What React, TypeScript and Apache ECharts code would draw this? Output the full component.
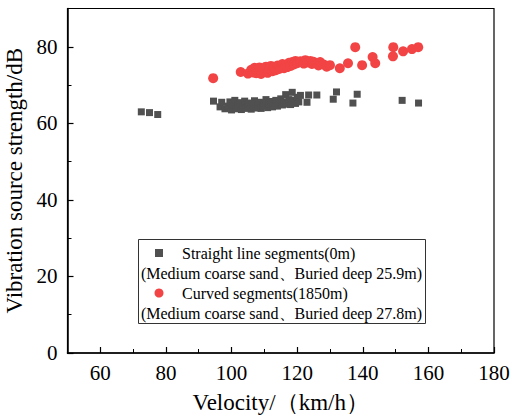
import React, { useEffect, useRef } from "react";
import * as echarts from "echarts";

const straightData: [number, number][] = [
  [72.5, 63.0], [75, 62.8], [77.5, 62.3],
  [94.5, 65.8], [96.5, 64.3], [97, 65.5], [98, 63.8], [99, 64.5], [99.5, 65.6], [100, 63.5],
  [100.5, 64.8], [101, 66.0], [101.5, 63.8], [102, 64.6], [102.5, 65.4], [103, 63.6], [103.5, 64.2],
  [104, 65.8], [104.5, 63.9], [105, 64.7], [105.5, 65.3], [106, 63.7], [106.5, 64.4], [107, 65.9],
  [107.5, 64.0], [108, 64.9], [108.5, 65.5], [109, 63.9], [109.5, 64.6], [110, 65.2], [110.5, 66.2],
  [111, 64.1], [111.5, 65.0], [112, 65.7], [112.5, 64.3], [113, 64.9], [113.5, 66.0], [114, 64.5],
  [114.5, 65.3], [115, 66.4], [115.5, 64.8], [116, 65.6], [116.5, 67.5], [117, 65.0], [117.5, 66.2],
  [118, 64.9], [118.5, 68.1], [119, 66.0], [119.5, 65.2], [120, 66.8], [120.5, 65.6], [121, 67.3],
  [123, 65.5], [123.5, 67.4], [126, 67.4], [131, 66.3], [132, 68.2], [137, 65.3], [138.3, 67.6],
  [152, 66.0], [157, 65.3],
];

const curvedData: [number, number][] = [
  [94.4, 71.8], [102.8, 73.4], [105, 73.0], [106, 74.0], [106.5, 73.3], [107, 74.5], [107.5, 73.1],
  [108, 73.8], [108.5, 74.6], [109, 72.9], [109.5, 74.1], [110, 73.5], [110.5, 74.8], [111, 73.2],
  [111.5, 74.3], [112, 75.0], [112.5, 73.6], [113, 74.6], [113.5, 73.9], [114, 75.1], [114.5, 74.2],
  [115, 74.8], [115.5, 75.5], [116, 74.4], [116.5, 75.2], [117, 74.7], [117.5, 75.8], [118, 75.0],
  [118.5, 76.0], [119, 75.4], [119.5, 76.3], [120, 75.7], [121, 76.2], [122, 75.6], [122.5, 76.5],
  [123, 75.9], [124, 76.3], [124.5, 75.5], [125, 76.1], [126, 75.7], [126.5, 75.1], [127, 76.0],
  [128, 75.4], [129, 74.8], [130, 75.2], [133, 74.4], [135.5, 75.7], [137.7, 79.9], [139.8, 75.2],
  [143, 77.3], [143.8, 75.7], [149.3, 79.9], [149.2, 77.5], [152.3, 78.8], [155, 79.4], [156.9, 79.9],
];

const xTickValues = [60, 80, 100, 120, 140, 160, 180];
const yTickValues = [0, 20, 40, 60, 80];

const xAxisTitle = "Velocity/（km/h）";
const yAxisTitle = "Vibration source strength/dB";

const legendLines = [
  "Straight line segments(0m)",
  "(Medium coarse sand、Buried deep 25.9m)",
  "Curved segments(1850m)",
  "(Medium coarse sand、Buried deep 27.8m)",
];

const FONT = "Liberation Serif";
const GRAY = "#505050";
const RED = "#f24444";

export default function App() {
  const ref = useRef<HTMLDivElement>(null);
  useEffect(() => {
    const chart = echarts.init(ref.current!, null, { renderer: "svg" });
    const lineStyle = { color: "#000", width: 1.5 };
    const tickText = { color: "#000", fontSize: 21, fontFamily: FONT };
    const titleText = { color: "#000", fontSize: 23, fontFamily: FONT };
    chart.setOption({
      animation: false,
      backgroundColor: "#fff",
      textStyle: { fontFamily: FONT },
      grid: {
        left: 67.5, right: 23, top: 8.5, bottom: 64,
        outerBoundsMode: "none", containLabel: false,
        show: true, borderColor: "#000", borderWidth: 1.2, backgroundColor: "transparent",
      },
      xAxis: [
        {
          type: "value", min: 50, max: 180,
          name: xAxisTitle, nameLocation: "middle", nameGap: 37.5,
          nameTextStyle: titleText,
          axisLine: { show: true, onZero: false, lineStyle },
          axisTick: { show: true, inside: true, length: 6, customValues: xTickValues, lineStyle: { color: "#000", width: 1.2 } },
          axisLabel: { ...tickText, margin: 9, customValues: xTickValues },
          splitLine: { show: false },
        },
        {
          type: "value", min: 50, max: 180, interval: 10, position: "bottom",
          axisLine: { show: false, onZero: false },
          axisTick: { show: true, inside: true, length: 4, lineStyle: { color: "#000", width: 1 } },
          axisLabel: { show: false },
          splitLine: { show: false },
        },
      ],
      yAxis: [
        {
          type: "value", min: 0, max: 90,
          name: yAxisTitle, nameLocation: "middle", nameGap: 23,
          nameTextStyle: titleText,
          axisLine: { show: true, onZero: false, lineStyle },
          axisTick: { show: true, inside: true, length: 6, customValues: yTickValues, lineStyle: { color: "#000", width: 1.2 } },
          axisLabel: { ...tickText, margin: 10, customValues: yTickValues },
          splitLine: { show: false },
        },
        {
          type: "value", min: 0, max: 90, interval: 10, position: "left",
          axisLine: { show: false, onZero: false },
          axisTick: { show: true, inside: true, length: 4, lineStyle: { color: "#000", width: 1 } },
          axisLabel: { show: false },
          splitLine: { show: false },
        },
      ],
      graphic: [
        {
          type: "rect", shape: { x: 138.5, y: 239.5, width: 287, height: 84 },
          style: { fill: "#fff", stroke: "#333", lineWidth: 1 }, z: 10,
        },
        { type: "rect", shape: { x: 155, y: 249, width: 8, height: 8 }, style: { fill: GRAY }, z: 11 },
        {
          type: "text", x: 182, y: 253,
          style: { text: legendLines[0], fontSize: 16, fontFamily: FONT, fill: "#000", verticalAlign: "middle", align: "left" }, z: 11,
        },
        {
          type: "text", x: 281.5, y: 273,
          style: { text: legendLines[1], fontSize: 16, fontFamily: FONT, fill: "#000", verticalAlign: "middle", align: "center" }, z: 11,
        },
        { type: "circle", shape: { cx: 159, cy: 293, r: 4.5 }, style: { fill: RED }, z: 11 },
        {
          type: "text", x: 182, y: 293,
          style: { text: legendLines[2], fontSize: 16, fontFamily: FONT, fill: "#000", verticalAlign: "middle", align: "left" }, z: 11,
        },
        {
          type: "text", x: 281.5, y: 313,
          style: { text: legendLines[3], fontSize: 16, fontFamily: FONT, fill: "#000", verticalAlign: "middle", align: "center" }, z: 11,
        },
      ],
      series: [
        {
          name: "Straight line segments(0m)", type: "scatter", data: straightData,
          xAxisIndex: 0, yAxisIndex: 0,
          symbol: "rect", symbolSize: 7, itemStyle: { color: GRAY, opacity: 1 },
        },
        {
          name: "Curved segments(1850m)", type: "scatter", data: curvedData,
          xAxisIndex: 0, yAxisIndex: 0,
          symbol: "circle", symbolSize: 10, itemStyle: { color: RED, opacity: 1 },
        },
      ],
    });
    return () => chart.dispose();
  }, []);
  return <div ref={ref} style={{ width: 517, height: 417, position: "absolute", left: 0, top: 0 }} />;
}
